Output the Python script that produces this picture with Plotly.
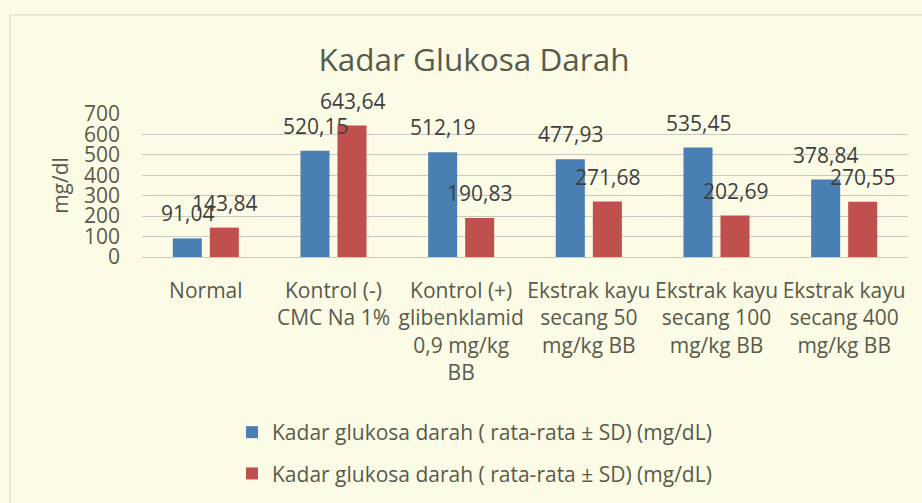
import plotly.graph_objects as go

categories = [
    "Normal",
    "Kontrol (-)<br>CMC Na 1%",
    "Kontrol (+)<br>glibenklamid<br>0,9 mg/kg<br>BB",
    "Ekstrak kayu<br>secang 50<br>mg/kg BB",
    "Ekstrak kayu<br>secang 100<br>mg/kg BB",
    "Ekstrak kayu<br>secang 400<br>mg/kg BB",
]
series_names = [
    "Kadar glukosa darah ( rata-rata ± SD) (mg/dL)",
    "Kadar glukosa darah ( rata-rata ± SD) (mg/dL)",
]
values_1 = [91.04, 520.15, 512.19, 477.93, 535.45, 378.84]
values_2 = [143.84, 643.64, 190.83, 271.68, 202.69, 270.55]
y_ticks = [0, 100, 200, 300, 400, 500, 600, 700]

colors = ["#4a7fb3", "#c0504d"]
text_color = "#595a4c"
label_color = "#404040"
FONT = "Open Sans"
BG = "#fcfce6"

W, H = 922, 503
L, R, T, B = 142, 14, 114, 246
PW, PH = W - L - R, H - T - B

fig = go.Figure()
for i, (name, vals) in enumerate(zip(series_names, [values_1, values_2])):
    fig.add_trace(go.Bar(
        x=categories, y=vals, name=name,
        marker=dict(color=colors[i], line=dict(width=0)),
        legendgroup=f"g{i}",
    ))

def fmt(v):
    return f"{v:.2f}".replace(".", ",")

for i, vals in enumerate([values_1, values_2]):
    shift = -18.5 if i == 0 else 18.5
    for c, v in zip(categories, vals):
        fig.add_annotation(
            x=c, y=v, xref="x", yref="y", text=fmt(v), showarrow=False,
            xshift=shift, yshift=25, yanchor="middle", xanchor="center",
            font=dict(family=FONT, size=21, color=label_color),
        )

# chart border
fig.add_shape(type="rect", xref="paper", yref="paper",
              x0=(10 - L) / PW, x1=(W + 20 - L) / PW,
              y0=(H - B - (H + 20)) / PH, y1=(H - B - 15) / PH,
              line=dict(color="#d4d4cc", width=1), fillcolor="rgba(0,0,0,0)", layer="below")

fig.update_layout(
    width=W, height=H,
    margin=dict(l=L, r=R, t=T, b=B, autoexpand=False),
    paper_bgcolor=BG,
    plot_bgcolor="rgba(0,0,0,0)",
    bargap=0.42, bargroupgap=0.216,
    title=dict(text="Kadar Glukosa Darah", x=474 / W, xref="container", xanchor="center",
               y=1 - 60 / H, yref="container", yanchor="middle",
               font=dict(family=FONT, size=31.5, color=text_color)),
    font=dict(family=FONT, size=21, color=text_color),
    showlegend=True,
    legend=dict(orientation="v", x=(232 - L) / PW, xanchor="left",
                y=(H - B - 412) / PH, yanchor="top",
                font=dict(family=FONT, size=21, color=text_color),
                bgcolor="rgba(0,0,0,0)", traceorder="grouped", tracegroupgap=11,
                itemwidth=30),
    xaxis=dict(showgrid=False, showline=False, ticks="", ticklabelstandoff=19,
               tickfont=dict(family=FONT, size=21, color=text_color), fixedrange=True),
    yaxis=dict(range=[0, 700], tickvals=y_ticks, showgrid=True, gridcolor="#c9c9c0",
               gridwidth=1.2, zeroline=True, zerolinecolor="#c9c9c0", zerolinewidth=1.2,
               showline=False, ticks="", ticklabelstandoff=21,
               tickfont=dict(family=FONT, size=21, color=text_color),
               title=dict(text="mg/dl", standoff=9,
                          font=dict(family=FONT, size=21, color=text_color)),
               fixedrange=True),
)

fig.write_html(
    "out.html",
    config={"displayModeBar": False},
    post_script=f"document.body.style.margin='0';document.body.style.background='{BG}';",
)
